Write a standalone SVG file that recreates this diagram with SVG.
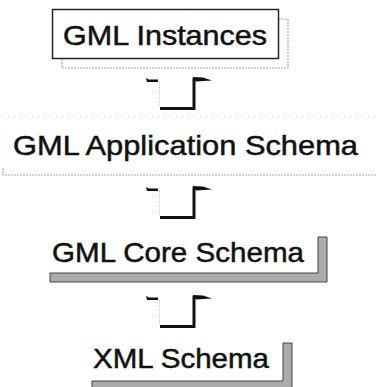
<svg xmlns="http://www.w3.org/2000/svg" xmlns:xlink="http://www.w3.org/1999/xlink" width="377" height="387" viewBox="0 0 377 387">
  <style>
    .label { font-family: "Liberation Sans", Arial, sans-serif; font-size: 28px; fill: #111; stroke: #111; stroke-width: 0.5; }
    .frame { fill: #fff; stroke: #222; stroke-width: 1.5; }
    .ghost { fill: none; stroke: #aaa; stroke-width: 1.2; stroke-dasharray: 2 1; }
    .faint { fill: none; stroke: #bbb; stroke-width: 1; stroke-dasharray: 1 5; }
    .shadow { fill: #ababab; stroke: #444; stroke-width: 1; }
    .pipe { fill: none; stroke: #111; stroke-width: 3; }
    .tip { fill: #111; }
    .thin { fill: none; stroke: #bbb; stroke-width: 1; stroke-dasharray: 1 1.5; }
  </style>
  <defs>
    <!-- one bent arrow, drawn at the first level; the others are shifted copies -->
    <g id="bend">
      <polygon class="tip" points="146,78 149,79.5 158,79.5 158,82 147,82"/>
      <line class="thin" x1="159.5" y1="82" x2="159.5" y2="107"/>
      <path class="pipe" d="M160,108.5 H194 V78"/>
      <polygon class="tip" points="192.5,77 203,77.5 212,80.5 196,81.5"/>
    </g>
  </defs>

  <rect width="377" height="387" fill="#fff"/>

  <g id="connectors">
    <use xlink:href="#bend"/>
    <use xlink:href="#bend" transform="translate(0,109)"/>
    <use xlink:href="#bend" transform="translate(0,218)"/>
  </g>

  <g id="gml-instances">
    <path class="ghost" d="M62,59 V68 H288 V19 H279"/>
    <rect class="frame" x="52.5" y="9.5" width="226" height="49"/>
    <text class="label" x="63" y="45" textLength="204" lengthAdjust="spacingAndGlyphs">GML Instances</text>
  </g>

  <g id="gml-application-schema">
    <line class="faint" x1="2" y1="117" x2="377" y2="117"/>
    <path class="ghost" d="M3,168 V175 H377"/>
    <text class="label" x="13" y="155" textLength="345" lengthAdjust="spacingAndGlyphs">GML Application Schema</text>
  </g>

  <g id="gml-core-schema">
    <path class="shadow" d="M50,273 H318 V237 H327 V282 H50 Z"/>
    <text class="label" x="52" y="262" textLength="252" lengthAdjust="spacingAndGlyphs">GML Core Schema</text>
  </g>

  <g id="xml-schema">
    <path class="shadow" d="M92,381 H283 V343 H292 V388 H92 Z"/>
    <text class="label" x="93" y="368" textLength="176" lengthAdjust="spacingAndGlyphs">XML Schema</text>
  </g>
</svg>
